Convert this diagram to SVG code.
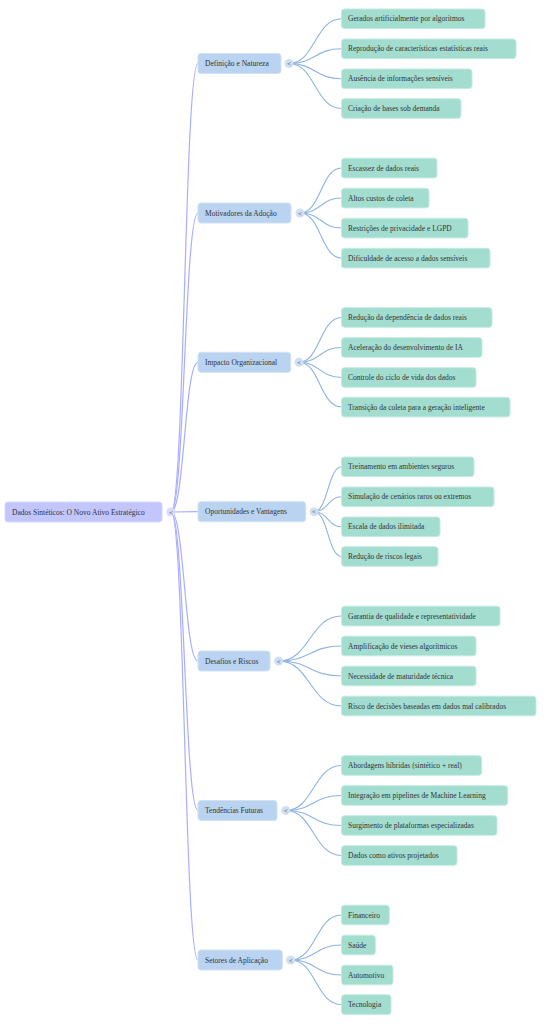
<svg xmlns="http://www.w3.org/2000/svg" width="554" height="1024" viewBox="0 0 554 1024">
<style>
text{font-family:"Liberation Serif","Times New Roman",serif;font-size:7.5px;fill:#333;}
.root rect{fill:#c3c5fd;stroke:#d4d6ff;stroke-width:1;}
.br rect{fill:#b9d3f1;stroke:#d0e2f6;stroke-width:1;}
.lf rect{fill:#a2ddd0;stroke:#c4ebe2;stroke-width:1;}
.c1 circle{fill:#d8daff;}
.c2 circle{fill:#cfe0f4;}
.ctext{font-size:7px;fill:#555;text-anchor:middle;}
.l1{fill:none;stroke:#a9adff;stroke-width:1.2;}
.l2{fill:none;stroke:#8eb4e3;stroke-width:1.1;}
</style>
<rect width="554" height="1024" fill="#fff"/>
<g id="connectors">
<path class="l1" d="M171,512 C184.5,512 184.5,63.5 198,63.5"/>
<path class="l1" d="M171,512 C184.5,512 184.5,213 198,213"/>
<path class="l1" d="M171,512 C184.5,512 184.5,362.3 198,362.3"/>
<path class="l1" d="M171,512 L198,511.7"/>
<path class="l1" d="M171,512 C184.5,512 184.5,661 198,661"/>
<path class="l1" d="M171,512 C184.5,512 184.5,810.5 198,810.5"/>
<path class="l1" d="M171,512 C184.5,512 184.5,960 198,960"/>
<path class="l2" d="M289,63.5 C315,63.5 315,18.8 341.5,18.8"/>
<path class="l2" d="M289,63.5 C315,63.5 315,48.8 341.5,48.8"/>
<path class="l2" d="M289,63.5 C315,63.5 315,78.8 341.5,78.8"/>
<path class="l2" d="M289,63.5 C315,63.5 315,108.5 341.5,108.5"/>
<path class="l2" d="M300,213 C321,213 321,168 341.5,168"/>
<path class="l2" d="M300,213 C321,213 321,198 341.5,198"/>
<path class="l2" d="M300,213 C321,213 321,228 341.5,228"/>
<path class="l2" d="M300,213 C321,213 321,258 341.5,258"/>
<path class="l2" d="M299,362.3 C320,362.3 320,317.5 341.5,317.5"/>
<path class="l2" d="M299,362.3 C320,362.3 320,347.5 341.5,347.5"/>
<path class="l2" d="M299,362.3 C320,362.3 320,377.5 341.5,377.5"/>
<path class="l2" d="M299,362.3 C320,362.3 320,407 341.5,407"/>
<path class="l2" d="M314,511.7 C328,511.7 328,466.8 341.5,466.8"/>
<path class="l2" d="M314,511.7 C328,511.7 328,496.8 341.5,496.8"/>
<path class="l2" d="M314,511.7 C328,511.7 328,526.8 341.5,526.8"/>
<path class="l2" d="M314,511.7 C328,511.7 328,556.5 341.5,556.5"/>
<path class="l2" d="M278.7,661 C310,661 310,616 341.5,616"/>
<path class="l2" d="M278.7,661 C310,661 310,646 341.5,646"/>
<path class="l2" d="M278.7,661 C310,661 310,676 341.5,676"/>
<path class="l2" d="M278.7,661 C310,661 310,706 341.5,706"/>
<path class="l2" d="M285.7,810.5 C313.5,810.5 313.5,765.5 341.5,765.5"/>
<path class="l2" d="M285.7,810.5 C313.5,810.5 313.5,795.5 341.5,795.5"/>
<path class="l2" d="M285.7,810.5 C313.5,810.5 313.5,825.5 341.5,825.5"/>
<path class="l2" d="M285.7,810.5 C313.5,810.5 313.5,855.5 341.5,855.5"/>
<path class="l2" d="M290.7,960 C316,960 316,915 341.5,915"/>
<path class="l2" d="M290.7,960 C316,960 316,945 341.5,945"/>
<path class="l2" d="M290.7,960 C316,960 316,975 341.5,975"/>
<path class="l2" d="M290.7,960 C316,960 316,1004.5 341.5,1004.5"/>
</g>
<g id="root" class="root"><rect x="5" y="502" width="157" height="20" rx="3"/><text x="12" y="514.5">Dados Sintéticos: O Novo Ativo Estratégico</text></g>
<g id="root-toggle" class="c1"><circle cx="171" cy="512" r="4.5"/><text class="ctext" x="171" y="514.5">&lt;</text></g>

<g id="b1" class="br"><rect x="198" y="53.5" width="83" height="20" rx="3"/><text x="205" y="66">Definição e Natureza</text></g>
<g id="b1-toggle" class="c2"><circle cx="289" cy="63.5" r="4.5"/><text class="ctext" x="289" y="66">&lt;</text></g>
<g id="b2" class="br"><rect x="198" y="203" width="93" height="20" rx="3"/><text x="205" y="215.5">Motivadores da Adoção</text></g>
<g id="b2-toggle" class="c2"><circle cx="300" cy="213" r="4.5"/><text class="ctext" x="300" y="215.5">&lt;</text></g>
<g id="b3" class="br"><rect x="198" y="352.3" width="92.7" height="20" rx="3"/><text x="205" y="364.8">Impacto Organizacional</text></g>
<g id="b3-toggle" class="c2"><circle cx="299" cy="362.3" r="4.5"/><text class="ctext" x="299" y="364.8">&lt;</text></g>
<g id="b4" class="br"><rect x="198" y="501.7" width="107.7" height="20" rx="3"/><text x="205" y="514.2">Oportunidades e Vantagens</text></g>
<g id="b4-toggle" class="c2"><circle cx="314" cy="511.7" r="4.5"/><text class="ctext" x="314" y="514.2">&lt;</text></g>
<g id="b5" class="br"><rect x="198" y="651" width="72" height="20" rx="3"/><text x="205" y="663.5">Desafios e Riscos</text></g>
<g id="b5-toggle" class="c2"><circle cx="278.7" cy="661" r="4.5"/><text class="ctext" x="278.7" y="663.5">&lt;</text></g>
<g id="b6" class="br"><rect x="198" y="800.5" width="79" height="20" rx="3"/><text x="205" y="813">Tendências Futuras</text></g>
<g id="b6-toggle" class="c2"><circle cx="285.7" cy="810.5" r="4.5"/><text class="ctext" x="285.7" y="813">&lt;</text></g>
<g id="b7" class="br"><rect x="198" y="950" width="84.3" height="20" rx="3"/><text x="205" y="962.5">Setores de Aplicação</text></g>
<g id="b7-toggle" class="c2"><circle cx="290.7" cy="960" r="4.5"/><text class="ctext" x="290.7" y="962.5">&lt;</text></g>

<g id="l1a" class="lf"><rect x="341.5" y="9" width="143.5" height="19.6" rx="3"/><text x="348" y="21.3">Gerados artificialmente por algoritmos</text></g>
<g id="l1b" class="lf"><rect x="341.5" y="39" width="174.5" height="19.6" rx="3"/><text x="348" y="51.3">Reprodução de características estatísticas reais</text></g>
<g id="l1c" class="lf"><rect x="341.5" y="69" width="130.5" height="19.6" rx="3"/><text x="348" y="81.3">Ausência de informações sensíveis</text></g>
<g id="l1d" class="lf"><rect x="341.5" y="98.7" width="119.5" height="19.6" rx="3"/><text x="348" y="111">Criação de bases sob demanda</text></g>

<g id="l2a" class="lf"><rect x="341.5" y="158.3" width="95.5" height="19.6" rx="3"/><text x="348" y="170.6">Escassez de dados reais</text></g>
<g id="l2b" class="lf"><rect x="341.5" y="188.3" width="87.5" height="19.6" rx="3"/><text x="348" y="200.6">Altos custos de coleta</text></g>
<g id="l2c" class="lf"><rect x="341.5" y="218.3" width="126.5" height="19.6" rx="3"/><text x="348" y="230.6">Restrições de privacidade e LGPD</text></g>
<g id="l2d" class="lf"><rect x="341.5" y="248.3" width="148.5" height="19.6" rx="3"/><text x="348" y="260.6">Dificuldade de acesso a dados sensíveis</text></g>

<g id="l3a" class="lf"><rect x="341.5" y="307.7" width="150.5" height="19.6" rx="3"/><text x="348" y="320">Redução da dependência de dados reais</text></g>
<g id="l3b" class="lf"><rect x="341.5" y="337.7" width="140.5" height="19.6" rx="3"/><text x="348" y="350">Aceleração do desenvolvimento de IA</text></g>
<g id="l3c" class="lf"><rect x="341.5" y="367.7" width="134.5" height="19.6" rx="3"/><text x="348" y="380">Controle do ciclo de vida dos dados</text></g>
<g id="l3d" class="lf"><rect x="341.5" y="397.3" width="168.5" height="19.6" rx="3"/><text x="348" y="409.6">Transição da coleta para a geração inteligente</text></g>

<g id="l4a" class="lf"><rect x="341.5" y="457" width="132.5" height="19.6" rx="3"/><text x="348" y="469.3">Treinamento em ambientes seguros</text></g>
<g id="l4b" class="lf"><rect x="341.5" y="487" width="152.5" height="19.6" rx="3"/><text x="348" y="499.3">Simulação de cenários raros ou extremos</text></g>
<g id="l4c" class="lf"><rect x="341.5" y="517" width="98.5" height="19.6" rx="3"/><text x="348" y="529.3">Escala de dados ilimitada</text></g>
<g id="l4d" class="lf"><rect x="341.5" y="546.7" width="96.5" height="19.6" rx="3"/><text x="348" y="559">Redução de riscos legais</text></g>

<g id="l5a" class="lf"><rect x="341.5" y="606.3" width="158.5" height="19.6" rx="3"/><text x="348" y="618.6">Garantia de qualidade e representatividade</text></g>
<g id="l5b" class="lf"><rect x="341.5" y="636.2" width="134.5" height="19.6" rx="3"/><text x="348" y="648.5">Amplificação de vieses algorítmicos</text></g>
<g id="l5c" class="lf"><rect x="341.5" y="666.2" width="134.5" height="19.6" rx="3"/><text x="348" y="678.5">Necessidade de maturidade técnica</text></g>
<g id="l5d" class="lf"><rect x="341.5" y="696.2" width="194.5" height="19.6" rx="3"/><text x="348" y="708.5">Risco de decisões baseadas em dados mal calibrados</text></g>

<g id="l6a" class="lf"><rect x="341.5" y="755.7" width="140.2" height="19.6" rx="3"/><text x="348" y="768">Abordagens híbridas (sintético + real)</text></g>
<g id="l6b" class="lf"><rect x="341.5" y="785.7" width="166.2" height="19.6" rx="3"/><text x="348" y="798">Integração em pipelines de Machine Learning</text></g>
<g id="l6c" class="lf"><rect x="341.5" y="815.7" width="155.5" height="19.6" rx="3"/><text x="348" y="828">Surgimento de plataformas especializadas</text></g>
<g id="l6d" class="lf"><rect x="341.5" y="845.7" width="115.5" height="19.6" rx="3"/><text x="348" y="858">Dados como ativos projetados</text></g>

<g id="l7a" class="lf"><rect x="341.5" y="905.2" width="47.8" height="19.6" rx="3"/><text x="348" y="917.5">Financeiro</text></g>
<g id="l7b" class="lf"><rect x="341.5" y="935.2" width="33.8" height="19.6" rx="3"/><text x="348" y="947.5">Saúde</text></g>
<g id="l7c" class="lf"><rect x="341.5" y="965.2" width="51.5" height="19.6" rx="3"/><text x="348" y="977.5">Automotivo</text></g>
<g id="l7d" class="lf"><rect x="341.5" y="994.8" width="49.5" height="19.6" rx="3"/><text x="348" y="1007.1">Tecnologia</text></g>
</svg>
